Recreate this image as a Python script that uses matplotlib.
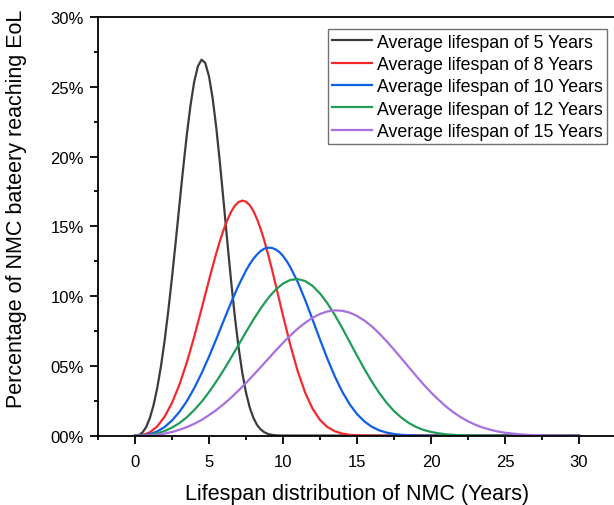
import numpy as np
import matplotlib.pyplot as plt
from matplotlib.ticker import MultipleLocator, FuncFormatter

plt.rcParams['font.family'] = ['Liberation Sans', 'DejaVu Sans']

# share of batteries reaching end of life (%) against lifespan (years)
yrs5 = np.arange(0, 10.25, 0.25)
life5 = [0, 0.04, 0.22, 0.61, 1.25, 2.17, 3.40, 4.95, 6.80, 8.95, 11.33,
         13.88, 16.51, 19.11, 21.54, 23.66, 25.35, 26.47, 26.94, 26.70, 25.75,
         24.15, 22.00, 19.43, 16.63, 13.77, 11.02, 8.50, 6.31, 4.51, 3.09,
         2.03, 1.28, 0.76, 0.44, 0.24, 0.12, 0.06, 0.03, 0.01, 0.01]

yrs8 = np.concatenate([np.arange(0, 5, 0.5), np.arange(5, 10, 0.25),
                       np.arange(10, 16.5, 0.5)])
life8 = [0, 0.04, 0.24, 0.66, 1.36, 2.35, 3.65, 5.24, 7.08, 9.09,
         11.14, 12.14, 13.10, 13.99, 14.79, 15.48, 16.05, 16.48, 16.74, 16.84,
         16.77, 16.52, 16.10, 15.51, 14.79, 13.93, 12.97, 11.93, 10.84, 9.72,
         8.61, 6.48, 4.60, 3.08, 1.93, 1.13, 0.62, 0.32, 0.15, 0.06, 0.03,
         0.01, 0]

yrs10 = np.concatenate([np.arange(0, 7.5, 0.5), np.arange(7.5, 10.5, 0.25),
                        np.arange(10.5, 20.5, 0.5)])
life10 = [0, 0.02, 0.11, 0.30, 0.62, 1.09, 1.70, 2.47, 3.40, 4.47, 5.66,
          6.94, 8.26, 9.55, 10.77,
          11.83, 12.28, 12.67, 12.99, 13.24, 13.40, 13.47, 13.45, 13.35, 13.16,
          12.88, 12.51,
          12.07, 11.00, 9.72, 8.32, 6.89, 5.51, 4.25, 3.16, 2.26, 1.55,
          1.02, 0.64, 0.38, 0.22, 0.12, 0.06, 0.03, 0.01, 0.01, 0]

yrs12 = np.arange(0, 24.5, 0.5)
life12 = [0, 0.01, 0.06, 0.16, 0.33, 0.58, 0.90, 1.32, 1.83, 2.43, 3.12,
          3.89, 4.72, 5.60, 6.51, 7.43, 8.31, 9.13, 9.86, 10.46, 10.90,
          11.16, 11.22, 11.08, 10.73, 10.19, 9.49, 8.65, 7.72, 6.73, 5.74,
          4.78, 3.88, 3.07, 2.36, 1.77, 1.29, 0.91, 0.62, 0.41, 0.27,
          0.17, 0.10, 0.06, 0.03, 0.02, 0.01, 0, 0]

yrs15 = np.arange(0, 30.5, 0.5)
life15 = [0, 0.01, 0.03, 0.07, 0.15, 0.26, 0.42, 0.61, 0.85, 1.13, 1.47,
          1.84, 2.27, 2.73, 3.24, 3.78, 4.34, 4.92, 5.50, 6.09, 6.65,
          7.18, 7.67, 8.09, 8.45, 8.72, 8.90, 8.98, 8.95, 8.82, 8.58,
          8.25, 7.83, 7.33, 6.77, 6.17, 5.54, 4.91, 4.28, 3.67, 3.10,
          2.58, 2.10, 1.69, 1.33, 1.03, 0.78, 0.58, 0.43, 0.30, 0.21,
          0.15, 0.10, 0.06, 0.04, 0.03, 0.02, 0.01, 0.01, 0, 0]

series = [(yrs5, life5), (yrs8, life8), (yrs10, life10), (yrs12, life12), (yrs15, life15)]
labels = ['Average lifespan of 5 Years', 'Average lifespan of 8 Years',
          'Average lifespan of 10 Years', 'Average lifespan of 12 Years',
          'Average lifespan of 15 Years']
colors = ['#3c3c3c', '#f5282d', '#0f5fe6', '#1f9d55', '#a86fe0']

fig = plt.figure(figsize=(6.14, 5.06), dpi=100)
ax = fig.add_axes([0.1596, 0.137, 0.8436, 0.8275])

for (x, vals), lab, c in zip(series, labels, colors):
    # curves run flat along zero out to 30 years
    x = np.append(x, 30)
    y = np.append(vals, 0)
    ax.plot(x, y, color=c, lw=1.6, label=lab)

ax.set_xlim(-2.5, 32.5)
ax.set_ylim(0, 30)
ax.set_xticks([0, 5, 10, 15, 20, 25, 30])
ax.xaxis.set_minor_locator(MultipleLocator(2.5))
ax.yaxis.set_major_locator(MultipleLocator(5))
ax.yaxis.set_minor_locator(MultipleLocator(2.5))
ax.yaxis.set_major_formatter(FuncFormatter(lambda v, p: f'{v:02.0f}%'))
ax.tick_params(which='major', direction='out', length=6, width=1.3, labelsize=12)
ax.tick_params(which='minor', direction='out', length=3, width=1.3)
ax.tick_params(axis='x', which='major', pad=7)
ax.tick_params(axis='y', which='major', pad=4)
for s in ['left', 'bottom', 'top']:
    ax.spines[s].set_linewidth(1.3)
ax.spines['right'].set_visible(False)

ax.set_xlabel('Lifespan distribution of NMC (Years)', fontsize=15.5, labelpad=10)
ax.set_ylabel('Percentage of NMC bateery reaching EoL', fontsize=15.5)
ax.yaxis.set_label_coords(-0.137, 0.544)

leg = ax.legend(loc='upper right', bbox_to_anchor=(0.983, 0.971), borderaxespad=0,
                fontsize=12.8, fancybox=False, edgecolor='#707070', framealpha=1,
                handlelength=2.2, handletextpad=0.3, labelspacing=0.3,
                borderpad=0.25)
leg.get_frame().set_linewidth(1.0)

plt.savefig('out.png')
